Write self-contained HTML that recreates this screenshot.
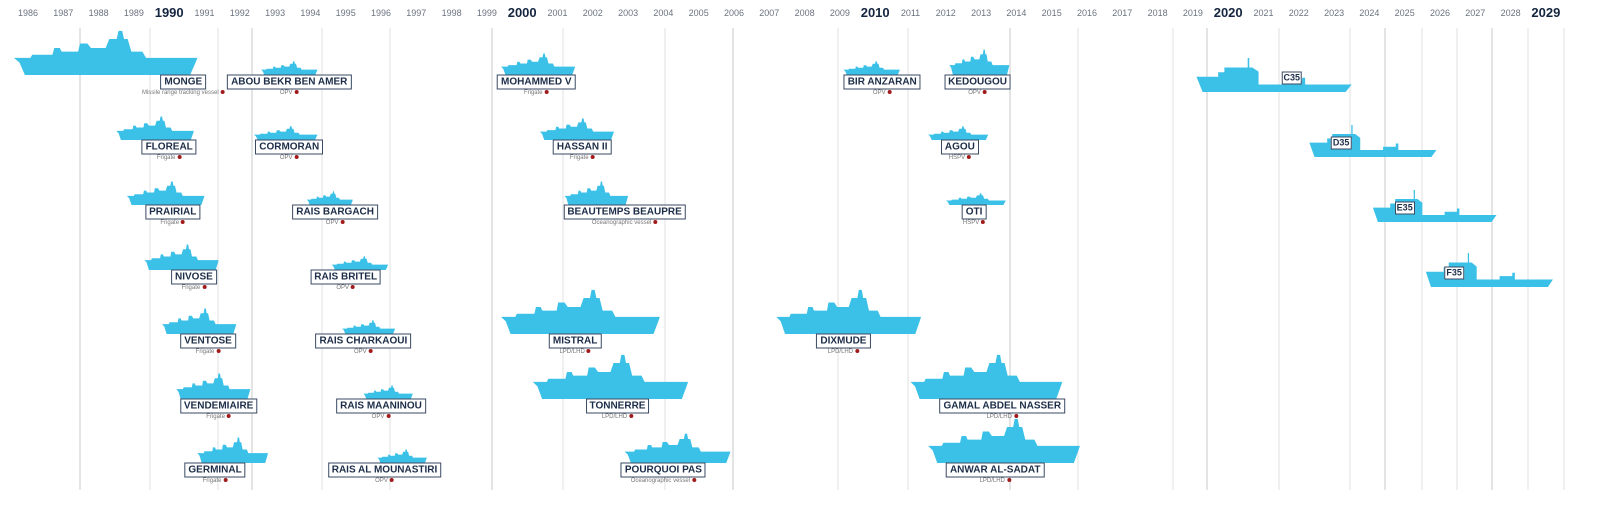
<!DOCTYPE html>
<html><head><meta charset="utf-8">
<style>
html,body{margin:0;padding:0;background:#fff;}
#c{position:relative;width:1601px;height:509px;overflow:hidden;font-family:"Liberation Sans",sans-serif;}
.yr{position:absolute;top:8px;font-size:9px;color:#6b7380;transform:translateX(-50%);white-space:nowrap;}
.yr.b{font-size:13px;font-weight:bold;color:#14253f;top:5px;}
.lbl{position:absolute;transform:translate(-50%,-50%);background:#fff;border:1px solid #3a4a63;color:#1c2d48;font-weight:bold;font-size:10px;padding:1px 3px;white-space:nowrap;line-height:11px;}
.sub{position:absolute;transform:translateX(-50%);font-size:6px;color:#777;white-space:nowrap;}
.sub i{display:inline-block;width:4px;height:4px;border-radius:2px;background:#a01c1c;margin-left:2px;vertical-align:middle;}
svg{position:absolute;left:0;top:0;}
</style></head><body>
<div id="c">
<svg id="s" width="1601" height="509"></svg>
</div>
<script>
const years=[];for(let y=1986;y<=2029;y++)years.push(y);
const boldYears=[1990,2000,2010,2020,2029];
const gridX=[80,150,218,252,322,390,492,563,665,733,838,908,1010,1078,1173,1207,1279,1350,1385,1422,1457,1492,1528,1564];
const shipNames=["MONGE","ABOU BEKR BEN AMER","MOHAMMED V","BIR ANZARAN","KEDOUGOU","C35",
"FLOREAL","CORMORAN","HASSAN II","AGOU","D35",
"PRAIRIAL","RAIS BARGACH","BEAUTEMPS BEAUPRE","OTI","E35",
"NIVOSE","RAIS BRITEL","F35",
"VENTOSE","RAIS CHARKAOUI","MISTRAL","DIXMUDE",
"VENDEMIAIRE","RAIS MAANINOU","TONNERRE","GAMAL ABDEL NASSER",
"GERMINAL","RAIS AL MOUNASTIRI","POURQUOI PAS","ANWAR AL-SADAT"];
const shipSubs=["Missile range tracking vessel","OPV","Frigate","OPV","OPV","",
"Frigate","OPV","Frigate","HSPV","",
"Frigate","OPV","Oceanographic vessel","HSPV","",
"Frigate","OPV","",
"Frigate","OPV","LPD/LHD","LPD/LHD",
"Frigate","OPV","LPD/LHD","LPD/LHD",
"Frigate","OPV","Oceanographic vessel","LPD/LHD"];
const shipStart=[1985.6,1992.6,1999.4,2009.1,2012.1,2019.1,1988.5,1992.4,2000.5,2011.5,2022.3,1988.8,1993.9,2001.2,2012.0,2024.1,1989.3,1994.6,2025.6,1989.8,1994.9,1999.4,2007.2,1990.2,1995.5,2000.3,2011.0,1990.8,1995.9,2002.9,2011.5];
const shipEnd=[1990.8,1994.2,2001.5,2010.7,2013.8,2023.5,1990.7,1994.2,2002.6,2013.2,2025.9,1991.0,1995.2,2003.0,2013.7,2027.6,1991.4,1996.2,2029.2,1991.9,1996.4,2003.9,2011.3,1992.3,1996.9,2004.7,2015.3,1992.8,1997.3,2005.9,2015.8];
const shipRow=[0,0,0,0,0,0,1,1,1,1,1,2,2,2,2,2,3,3,3,4,4,4,4,5,5,5,5,6,6,6,6];
const shipHeight=[45,14,22,14,26,34,24,14,22,14,32,24,14,24,12,32,26,14,34,26,14,45,45,26,14,45,45,26,14,30,45];
const labelYear=[1990.4,1993.4,2000.4,2010.2,2012.9,2021.8,1990.0,1993.4,2001.7,2012.4,2023.2,1990.1,1994.7,2002.9,2012.8,2025.0,1990.7,1995.0,2026.4,1991.1,1995.5,2001.5,2009.1,1991.4,1996.0,2002.7,2013.6,1991.3,1996.1,2004.0,2013.4];
const rowY=[82,147,212,277,341,406,470];
const isFuture=n=>/35$/.test(n);

const X=y=>28+(y-1986)*35.3;
const c=document.getElementById('c'),s=document.getElementById('s'),NS='http://www.w3.org/2000/svg';
years.forEach(y=>{const d=document.createElement('div');d.className='yr'+(boldYears.includes(y)?' b':'');d.textContent=y;d.style.left=X(y)+'px';


c.appendChild(d);});
gridX.forEach((g,i)=>{const l=document.createElementNS(NS,'line');l.setAttribute('x1',g);l.setAttribute('x2',g);l.setAttribute('y1',28);l.setAttribute('y2',490);
l.setAttribute('stroke',(i%3==0)?'#c9c9c9':'#e2e2e2');l.setAttribute('stroke-width',1);


s.appendChild(l);});
const shipPath="M0,62 L3,72 L6,100 L96,100 L99,72 L100,62 L72,62 L70,48 L64,48 L62,20 L60,20 L59,2 L57,2 L56,20 L52,20 L50,40 L42,40 L40,30 L36,30 L35,48 L26,48 L25,40 L22,40 L21,55 L10,55 L9,62 Z";
const futPath="M0,55 L4,100 L96,100 L100,78 L70,78 L70,58 L68,58 L68,68 L58,68 L58,78 L40,78 L40,40 L36,28 L34,28 L34,0 L33,0 L33,28 L18,28 L18,42 L14,42 L14,55 Z";
shipNames.forEach((n,i)=>{
 const x0=X(shipStart[i]),x1=X(shipEnd[i]),ry=rowY[shipRow[i]];
 const fut=isFuture(n);
 const bottom=fut?ry+10:ry-7,h=shipHeight[i];
 const p=document.createElementNS(NS,'path');p.setAttribute('d',fut?futPath:shipPath);
 p.setAttribute('fill','#3bc1e8');
 p.setAttribute('transform',`translate(${x0},${bottom-h}) scale(${(x1-x0)/100},${h/100})`);
 
 
 s.appendChild(p);
 const l=document.createElement('div');l.className='lbl';l.textContent=n;
 l.style.left=X(labelYear[i])+'px';l.style.top=(fut?ry-4:ry)+'px';
 if(fut){l.style.fontSize='9px';l.style.padding='0 1px';}
 
 
 c.appendChild(l);
 if(shipSubs[i]){const sb=document.createElement('div');sb.className='sub';sb.innerHTML=shipSubs[i]+'<i></i>';
 sb.style.left=X(labelYear[i])+'px';sb.style.top=(ry+8)+'px';
 
 
 c.appendChild(sb);}
});
</script>
</body></html>
